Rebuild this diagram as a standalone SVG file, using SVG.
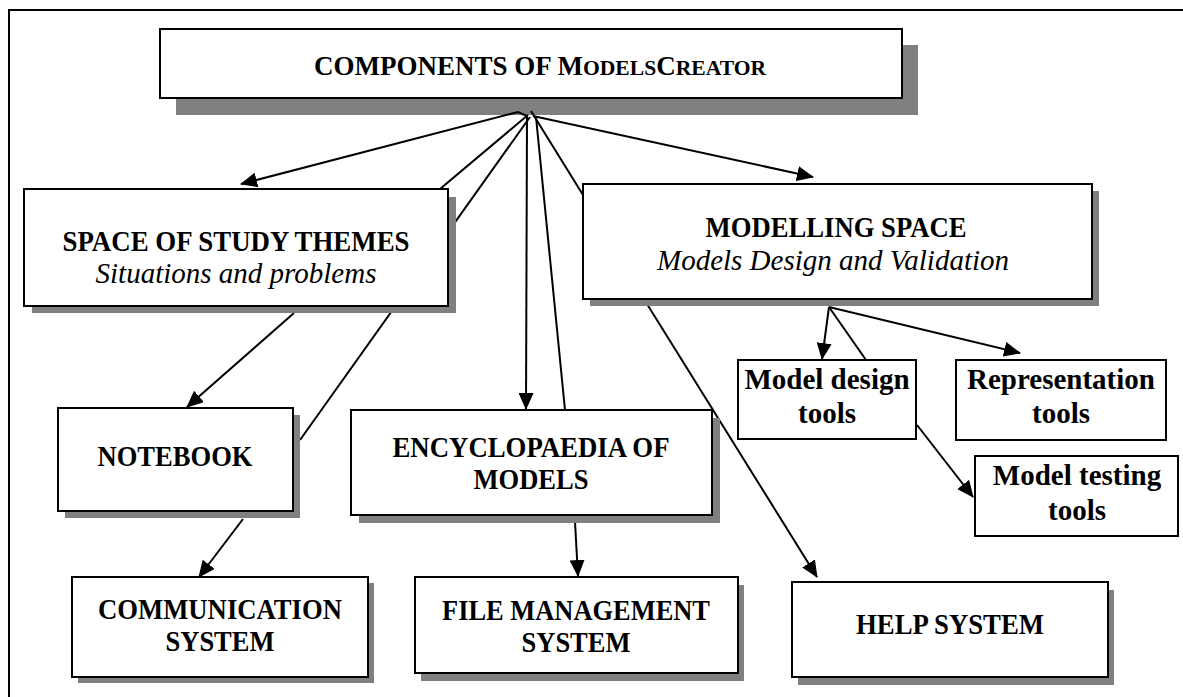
<svg xmlns="http://www.w3.org/2000/svg" width="1183" height="697" viewBox="0 0 1183 697">
<style>
.box{fill:#fff;stroke:#000;stroke-width:2}
.sh{fill:#808080;stroke:none}
.c{fill:none;stroke:#000;stroke-width:2}
.a{fill:none;stroke:#000;stroke-width:2;marker-end:url(#ah)}
text{font-family:"Liberation Serif","Times New Roman",serif;fill:#000;text-anchor:middle}
.b{font-weight:bold;font-size:29px}
.i{font-style:italic;font-size:29px}
.t{font-weight:bold;font-size:29px}
</style>
<defs>
<marker id="ah" markerUnits="userSpaceOnUse" markerWidth="17" markerHeight="15" refX="16" refY="7.5" orient="auto">
<path d="M0,0 L17,7.5 L0,15 z" fill="#000"/>
</marker>
</defs>
<rect x="0" y="0" width="1183" height="697" fill="#fff"/>
<rect x="9" y="10" width="1200" height="720" fill="none" stroke="#000" stroke-width="2"/>

<g id="title">
<rect class="sh" x="176" y="45" width="742" height="70"/>
<rect class="box" x="160" y="29" width="742" height="69"/>
<text x="540" y="75" font-weight="bold" font-size="27">COMPONENTS OF M<tspan font-size="21.6">ODELS</tspan>C<tspan font-size="21.6">REATOR</tspan></text>
</g>

<g id="connectors">
<polyline class="a" points="527,116 518,112 241,184"/>
<line class="c" x1="528" y1="115" x2="440" y2="189"/>
<line class="c" x1="530" y1="117" x2="300" y2="440"/>
<line class="a" x1="527" y1="116" x2="526" y2="409"/>
<line class="c" x1="536" y1="117" x2="565" y2="410"/>
<line class="c" x1="531" y1="111" x2="583" y2="195"/>
<line class="a" x1="533" y1="116" x2="813" y2="177"/>
<line class="a" x1="294" y1="313" x2="187" y2="407"/>
<line class="a" x1="243" y1="519" x2="199" y2="577"/>
<line class="a" x1="575" y1="522" x2="578" y2="576"/>
<line class="a" x1="647" y1="304" x2="817" y2="577"/>
<line class="a" x1="829" y1="307" x2="822" y2="359"/>
<line class="c" x1="829" y1="307" x2="866" y2="360"/>
<line class="a" x1="829" y1="307" x2="1020" y2="353"/>
<line class="a" x1="917" y1="425" x2="973" y2="497"/>
</g>

<g id="space-of-study-themes">
<rect class="sh" x="32" y="197" width="424" height="116"/>
<rect class="box" x="24" y="189" width="424" height="117"/>
<text class="b" x="236" y="251" textLength="347" lengthAdjust="spacingAndGlyphs">SPACE OF STUDY THEMES</text>
<text class="i" x="236" y="283">Situations and problems</text>
</g>

<g id="modelling-space">
<rect class="sh" x="590" y="191" width="509" height="115"/>
<rect class="box" x="583" y="184" width="509" height="115"/>
<text class="b" x="836" y="237" textLength="261" lengthAdjust="spacingAndGlyphs">MODELLING SPACE</text>
<text class="i" x="833" y="270">Models Design and Validation</text>
</g>

<g id="notebook">
<rect class="sh" x="65" y="415" width="235" height="103"/>
<rect class="box" x="58" y="408" width="235" height="103"/>
<text class="b" x="175" y="466" textLength="155" lengthAdjust="spacingAndGlyphs">NOTEBOOK</text>
</g>

<g id="encyclopaedia">
<rect class="sh" x="359" y="418" width="361" height="105"/>
<rect class="box" x="351" y="410" width="361" height="105"/>
<text class="b" x="531" y="457" textLength="277" lengthAdjust="spacingAndGlyphs">ENCYCLOPAEDIA OF</text>
<text class="b" x="531" y="489" textLength="115" lengthAdjust="spacingAndGlyphs">MODELS</text>
</g>

<g id="communication-system">
<rect class="sh" x="78" y="583" width="296" height="100"/>
<rect class="box" x="72" y="577" width="296" height="100"/>
<text class="b" x="220" y="619" textLength="244" lengthAdjust="spacingAndGlyphs">COMMUNICATION</text>
<text class="b" x="220" y="651" textLength="109" lengthAdjust="spacingAndGlyphs">SYSTEM</text>
</g>

<g id="file-management-system">
<rect class="sh" x="421" y="585" width="323" height="96"/>
<rect class="box" x="415" y="577" width="323" height="96"/>
<text class="b" x="576" y="620" textLength="268" lengthAdjust="spacingAndGlyphs">FILE MANAGEMENT</text>
<text class="b" x="576" y="652" textLength="109" lengthAdjust="spacingAndGlyphs">SYSTEM</text>
</g>

<g id="help-system">
<rect class="sh" x="798" y="590" width="316" height="95"/>
<rect class="box" x="792" y="582" width="316" height="95"/>
<text class="b" x="950" y="634" textLength="188" lengthAdjust="spacingAndGlyphs">HELP SYSTEM</text>
</g>

<g id="model-design-tools">
<rect class="box" x="738" y="360" width="178" height="79"/>
<text class="t" x="827" y="389">Model design</text>
<text class="t" x="827" y="423">tools</text>
</g>

<g id="representation-tools">
<rect class="box" x="956" y="360" width="210" height="80"/>
<text class="t" x="1061" y="389">Representation</text>
<text class="t" x="1061" y="423">tools</text>
</g>

<g id="model-testing-tools">
<rect class="box" x="975" y="456" width="203" height="80"/>
<text class="t" x="1077" y="485">Model testing</text>
<text class="t" x="1077" y="520">tools</text>
</g>
</svg>
